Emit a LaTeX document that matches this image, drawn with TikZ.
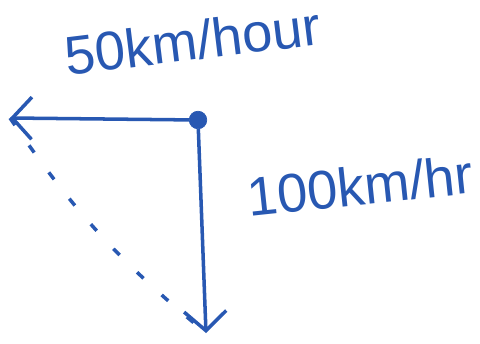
\documentclass[tikz,border=0pt]{standalone}
\usepackage{fontspec}
\setmainfont{Liberation Sans}
\usepackage{xcolor}
\usepackage{tikz}
\usetikzlibrary{arrows.meta}
\definecolor{pen}{RGB}{40,88,178}

\begin{document}
\begin{tikzpicture}[
  vec/.style={draw=pen, line width=2pt, -{Straight Barb[length=11pt,width=24pt,line width=2pt]}},
  lbl/.style={text=pen, font=\fontsize{31}{34}\selectfont}]
% marco
\useasboundingbox (0,0) rectangle (9.6,6.86);
% punto de partida
\node[circle, fill=pen, draw=pen, inner sep=0pt, minimum size=10pt] (dot) at (3.96,4.46) {};
\coordinate (west) at (0.2,4.5);
\coordinate (south) at (4.12,0.2);
% vectores
\draw[vec] (dot) -- (west);
\draw[vec] (dot) -- (south);
% resultante
\draw[pen, line width=2pt, dash pattern=on 5pt off 14pt] (west) to[bend right=8] (south);
% Etiquetas
\node[lbl, rotate=7] (east) at (3.85,6.05) {50km/hour};
\node[lbl, rotate=6] (down) at (7.2,3.15) {100km/hr};
\end{tikzpicture}
\end{document}
